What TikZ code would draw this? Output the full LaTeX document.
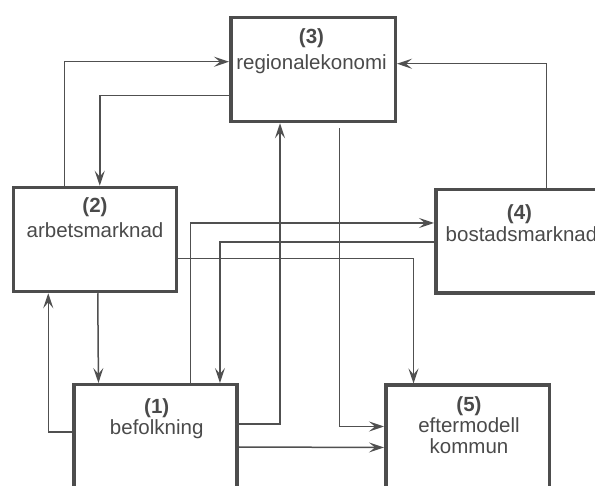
\documentclass[tikz,border=0pt]{standalone}
\usepackage{fontspec}
\setmainfont{Liberation Sans}
\usetikzlibrary{arrows.meta}
\definecolor{boxc}{HTML}{4D4D4D}
\definecolor{linec}{HTML}{505050}
\definecolor{txtc}{HTML}{4A4A4A}
\begin{document}
\begin{tikzpicture}[x=1pt,y=-1pt,
  box/.style={draw=boxc, line width=3.5pt, rectangle, inner sep=0pt},
  txt/.style={text=txtc, font=\fontsize{20.5}{22}\selectfont, anchor=base, inner sep=0pt},
  conn/.style={draw=linec, line width=1.5pt},
  arr/.style={conn, -{Stealth[length=15pt,width=10pt,inset=6pt]}}]
\useasboundingbox (0,0) rectangle (595,486);
% boxes
\node[box, minimum width=164.5pt, minimum height=104pt] (b3) at (313,69.5) {};
\node[box, minimum width=163pt, minimum height=104pt] (b2) at (95,239.5) {};
\node[box, minimum width=165.5pt, minimum height=103.5pt] (b4) at (518.5,241.5) {};
\node[box, minimum width=163pt, minimum height=103.5pt] (b1) at (155.7,436.5) {};
\node[box, minimum width=163.5pt, minimum height=103.5pt] (b5) at (467.5,437) {};
% texts
\node[txt] (t3a) at (311.5,44) {\textbf{(3)}};
\node[txt] (t3b) at (311.5,69.5) {regionalekonomi};
\node[txt] (t2a) at (95,213) {\textbf{(2)}};
\node[txt] (t2b) at (95,237.3) {arbetsmarknad};
\node[txt] (t4a) at (519.5,220) {\textbf{(4)}};
\node[txt] (t4b) at (521.5,241.7) {bostadsmarknad};
\node[txt] (t1a) at (156.7,413.3) {\textbf{(1)}};
\node[txt] (t1b) at (156.7,435) {befolkning};
\node[txt] (t5a) at (469,411.7) {\textbf{(5)}};
\node[txt] (t5b) at (469,432.3) {eftermodell};
\node[txt] (t5c) at (469,453.3) {kommun};
% connectors
\draw[arr] ([xshift=52.5pt]b2.north west) |- ([yshift=-46pt]b3.north west);
\draw[arr] ([yshift=-80pt]b3.north west) -| ([xshift=88pt]b2.north west);
\draw[arr] ([xshift=112.5pt]b4.north west) |- ([yshift=-48pt]b3.north east);
\draw[arr] ([xshift=118pt]b1.north west) |- ([yshift=-35pt]b4.north west);
\draw[arr] ([yshift=-54pt]b4.north west) -| ([xshift=147.5pt]b1.north west);
\draw[arr] ([yshift=-73pt]b2.north east) -| ([xshift=29.5pt]b5.north west);
\draw[arr] ([xshift=-3.5pt,yshift=-41pt]b1.north east) -| ([xshift=51pt]b3.south west);
\coordinate (c8) at (339.5,128.3);
\draw[arr] (c8) |- ([yshift=-43pt]b5.north west);
\draw[arr] ([yshift=-64pt]b1.north east) -- ([yshift=-64pt]b5.north west);
\draw[arr] ([xshift=86pt]b2.south west) -- ([xshift=26pt]b1.north west);
\draw[arr] ([yshift=-49pt]b1.north west) -| ([xshift=36.5pt]b2.south west);
\end{tikzpicture}
\end{document}
